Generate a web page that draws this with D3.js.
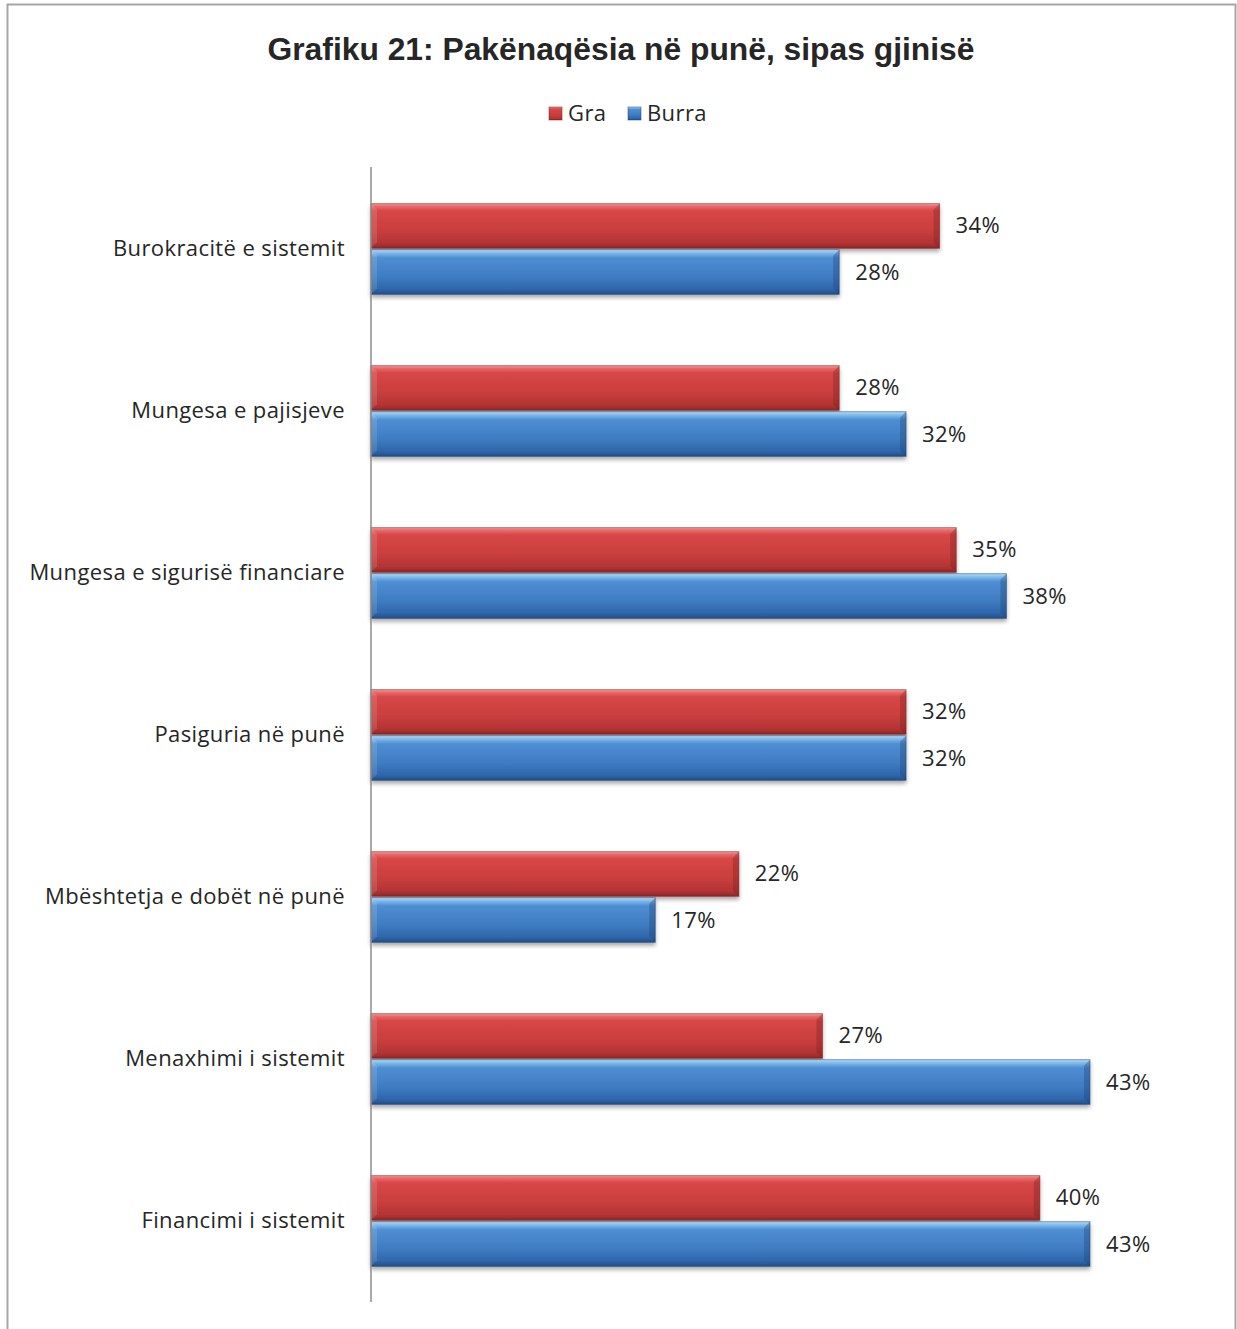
<!DOCTYPE html>
<html><head><meta charset="utf-8">
<script src="https://cdn.jsdelivr.net/npm/d3@7"></script>
<style>
html,body{margin:0;padding:0;background:#fff;}
svg{display:block;}
</style></head>
<body>
<svg id="chart" width="1237" height="1329"></svg>
<script>
const categories = ["Burokracitë e sistemit","Mungesa e pajisjeve","Mungesa e sigurisë financiare","Pasiguria në punë","Mbështetja e dobët në punë","Menaxhimi i sistemit","Financimi i sistemit"];
const seriesNames = ["Gra","Burra"];
const gra = [34,28,35,32,22,27,40];
const burra = [28,32,38,32,17,43,43];
const title = "Grafiku 21: Pakënaqësia në punë, sipas gjinisë";

const svg = d3.select("#chart");
const labelFont = "'Open Sans', Lato, sans-serif";

// frame
svg.append("path").attr("d","M7.5,1329 V4.5 H1235.5 V1329").attr("fill","none").attr("stroke","#a6a6a6").attr("stroke-width",2);

const defs = svg.append("defs");
function grad(id, stops){
  const g = defs.append("linearGradient").attr("id",id).attr("x1",0).attr("y1",0).attr("x2",0).attr("y2",1);
  stops.forEach(s=>g.append("stop").attr("offset",s[0]).attr("stop-color",s[1]));
}
grad("gRed",[[0,"#f49a9a"],[0.06,"#ea6a6a"],[0.16,"#d84747"],[0.6,"#c93e3e"],[0.88,"#b33434"],[1,"#8e2626"]]);
grad("gBlue",[[0,"#b4dcf8"],[0.06,"#86c0ee"],[0.18,"#4f8ed2"],[0.6,"#3f7cc2"],[0.88,"#2f67ab"],[1,"#214f86"]]);
const fills = {Gra:"url(#gRed)", Burra:"url(#gBlue)"};
const edge = {Gra:"#7a1f1f", Burra:"#1c4273"};

// shadow filter
const f = defs.append("filter").attr("id","sh").attr("x","-5%").attr("y","-20%").attr("width","110%").attr("height","160%");
f.append("feGaussianBlur").attr("in","SourceAlpha").attr("stdDeviation",2);
f.append("feOffset").attr("dx",0).attr("dy",3).attr("result","b");
f.append("feComponentTransfer").append("feFuncA").attr("type","linear").attr("slope",0.35);
const m = f.append("feMerge"); m.append("feMergeNode"); m.append("feMergeNode").attr("in","SourceGraphic");

// title
svg.append("text").attr("x",621).attr("y",60).attr("text-anchor","middle")
  .attr("font-family","'Liberation Sans Narrow','Liberation Sans',Arial,sans-serif")
  .attr("font-weight","bold").attr("font-size",31).attr("fill","#262626")
  .attr("textLength",707).attr("lengthAdjust","spacingAndGlyphs").text(title);

const txt = sel => sel.attr("font-family",labelFont).attr("font-size",22).attr("letter-spacing","0.4px").attr("fill","#262626");

// legend
const legendX = [549, 628];
seriesNames.forEach((s,i)=>{
  svg.append("rect").attr("x",legendX[i]).attr("y",107).attr("width",13).attr("height",13).attr("fill",fills[s]).attr("stroke",edge[s]).attr("stroke-opacity",0.5);
  svg.append("text").attr("x",legendX[i]+19).attr("y",121).call(txt).text(s);
});

const y0 = d3.scaleBand().domain(categories).range([168,1302]).paddingInner(0.44).paddingOuter(0.22);
const y1 = d3.scaleBand().domain(seriesNames).range([0,y0.bandwidth()]).paddingInner(0.03);
const x = d3.scaleLinear().domain([0,43]).range([371,1090]);

const g = svg.append("g");
categories.forEach((c,i)=>{
  const vals = {Gra:gra[i], Burra:burra[i]};
  seriesNames.forEach(s=>{
    const yy = y0(c)+y1(s), h = y1.bandwidth(), x0 = x(0), x1 = x(vals[s]);
    const bg = g.append("g").attr("filter","url(#sh)");
    bg.append("rect").attr("x",x0).attr("y",yy).attr("width",x1-x0).attr("height",h).attr("fill",fills[s]);
    bg.append("path").attr("d",`M${x1-6},${yy+6} L${x1},${yy} L${x1},${yy+h} L${x1-6},${yy+h-6} Z`).attr("fill",edge[s]).attr("opacity",0.35);
    bg.append("path").attr("d",`M${x0},${yy} L${x0+6},${yy+6} L${x0+6},${yy+h-6} L${x0},${yy+h} Z`).attr("fill","#fff").attr("opacity",0.12);
    bg.append("rect").attr("x",x0).attr("y",yy).attr("width",x1-x0).attr("height",h).attr("fill","none").attr("stroke",edge[s]).attr("stroke-opacity",0.5).attr("stroke-width",1);
    g.append("text").attr("x",x1+16).attr("y",yy+h/2).attr("dy","0.34em").call(txt).text(vals[s]+"%");
  });
  g.append("text").attr("x",345).attr("y",y0(c)+y0.bandwidth()/2).attr("dy","0.3em").attr("text-anchor","end")
    .call(txt).text(c);
});

// axis line
svg.append("line").attr("x1",371).attr("x2",371).attr("y1",167).attr("y2",1302).attr("stroke","#8c8c8c").attr("stroke-width",1.5);
</script>
</body></html>
